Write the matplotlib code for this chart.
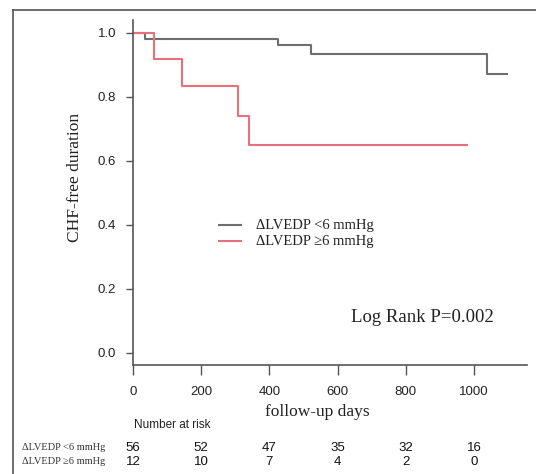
import matplotlib
matplotlib.use("Agg")
import matplotlib.pyplot as plt
from matplotlib.lines import Line2D

# Data (step curves: event times and survival after each step)
low_times = [0, 35, 424, 522, 1039, 1095]
low_surv = [1.0, 0.982, 0.961, 0.934, 0.872, 0.872]
high_times = [0, 63, 144, 309, 340, 980]
high_surv = [1.0, 0.917, 0.833, 0.741, 0.648, 0.648]

x_ticks = [0, 200, 400, 600, 800, 1000]
y_ticks = [0.0, 0.2, 0.4, 0.6, 0.8, 1.0]
risk_low = [56, 52, 47, 35, 32, 16]
risk_high = [12, 10, 7, 4, 2, 0]
label_low = "ΔLVEDP <6 mmHg"
label_high = "ΔLVEDP ≥6 mmHg"

W, H = 536, 474
fig = plt.figure(figsize=(W / 100, H / 100), dpi=100)

# outer frame (left and top)
fig.add_artist(Line2D([13 / W, 13 / W], [0, 1 - 10 / H], color="#555555", lw=1.2))
fig.add_artist(Line2D([13 / W, 1], [1 - 10 / H, 1 - 10 / H], color="#555555", lw=1.2))

ax_l, ax_r, ax_t, ax_b = 133, 527, 20, 365
ax = fig.add_axes([ax_l / W, 1 - ax_b / H, (ax_r - ax_l) / W, (ax_b - ax_t) / H])

gray = "#6e6e6e"
red = "#e8707c"
ax.step(low_times, low_surv, where="post", color=gray, lw=1.5)
ax.step(high_times, high_surv, where="post", color=red, lw=1.5)

ax.set_xlim(0, 1155)
ax.set_ylim(-0.039, 1.04)
for s in ["top", "right"]:
    ax.spines[s].set_visible(False)
for s in ["left", "bottom"]:
    ax.spines[s].set_color("#555555")
    ax.spines[s].set_linewidth(1.2)
ax.set_xticks(x_ticks)
ax.set_yticks(y_ticks)
ax.set_xticklabels([str(t) for t in x_ticks], family="Liberation Sans", fontsize=9.5, color="#222222")
ax.set_yticklabels([f"{t:.1f}" for t in y_ticks], family="Liberation Sans", fontsize=9.5, color="#222222")
ax.tick_params(axis="x", length=7, width=1, color="#555555", pad=8)
ax.tick_params(axis="y", length=5, width=1, color="#555555", pad=7)

# legend (manual)
serif = "Liberation Serif"
for yy, col, lab in [(225, gray, label_low), (241, red, label_high)]:
    fig.add_artist(Line2D([219 / W, 241 / W], [1 - yy / H] * 2, color=col, lw=1.5))
    fig.text(256 / W, 1 - yy / H, lab, family=serif, fontsize=10.5, va="center", ha="left", color="#222222")

fig.text(422 / W, 1 - 318 / H, "Log Rank P=0.002", family=serif, fontsize=13.5, va="center", ha="center", color="#222222")

fig.text(75 / W, 1 - 177 / H, "CHF-free duration", family=serif, fontsize=12.5, rotation=90,
         va="center", ha="center", color="#222222")
fig.text(317 / W, 1 - 412 / H, "follow-up days", family=serif, fontsize=12.5, va="center", ha="center", color="#222222")

fig.text(172 / W, 1 - 425 / H, "Number at risk", family="Liberation Sans", fontsize=8.5, va="center", ha="center", color="#222222")

def xpix(v):
    return ax_l + (474 - 133) * v / 1000.0

for yy, lab, vals in [(448, label_low, risk_low), (462, label_high, risk_high)]:
    fig.text(22 / W, 1 - yy / H, lab, family=serif, fontsize=7.5, va="center", ha="left", color="#333333")
    for t, v in zip(x_ticks, vals):
        fig.text(xpix(t) / W, 1 - yy / H, str(v), family="Liberation Sans", fontsize=9.5, va="center", ha="center", color="#111111")

fig.savefig("out.png", dpi=100)
